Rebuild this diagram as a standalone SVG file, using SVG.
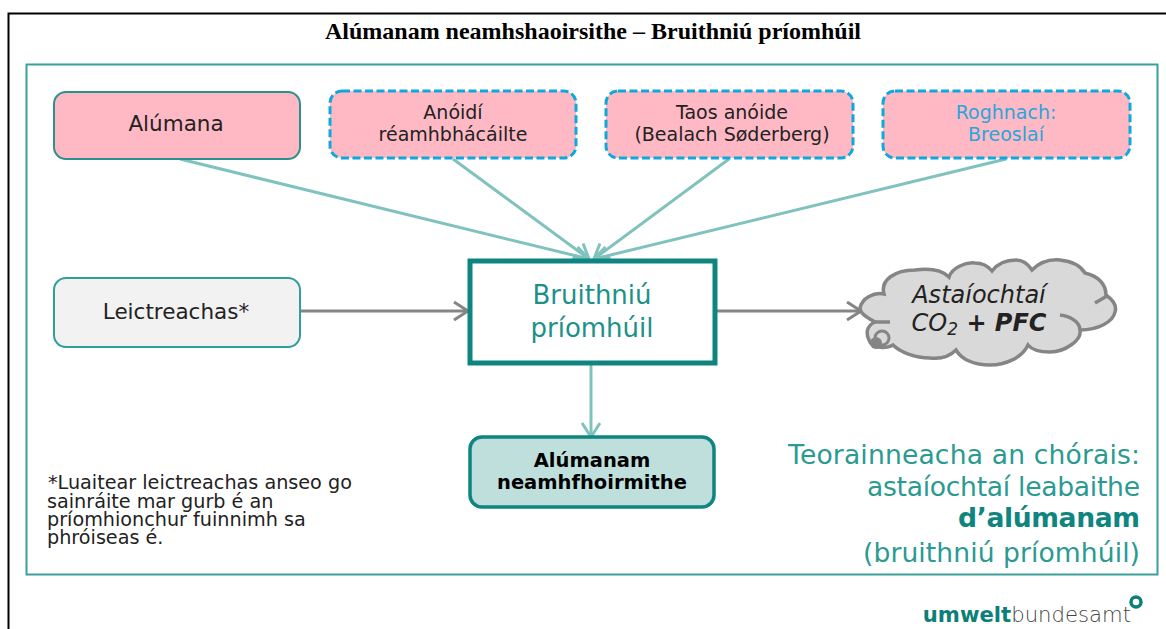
<svg xmlns="http://www.w3.org/2000/svg" width="1166" height="629" viewBox="0 0 1166 629">
<style>
text{font-family:"DejaVu Sans",Verdana,sans-serif;text-anchor:middle;fill:#222}
.solid{fill:#ffb9c5;stroke:#2f8f8c;stroke-width:2}
.dash{fill:#ffb9c5;stroke:#0fa8dc;stroke-width:3;stroke-dasharray:8 3.5}
.n{font-size:19px}
.m{font-size:21.5px}
.teal{fill:#1d9189;font-size:26px}
.tl{stroke:#7fc2be;stroke-width:3;fill:none}
.gl{stroke:#858585;stroke-width:3;fill:none}
.r{text-anchor:end;fill:#2a9a92;font-size:26.6px}
.note{text-anchor:start;font-size:19.2px}
.cl{fill:none;stroke:#858585;stroke-width:3.5}
.c{font-size:24px;font-style:italic}
.b{font-size:19.5px;font-weight:bold;fill:#000}
</style>
<defs>
<marker id="at" markerUnits="userSpaceOnUse" markerWidth="24" markerHeight="24" refX="19" refY="10" orient="auto"><path d="M5 1L19 10L5 19" fill="none" stroke="#7fc2be" stroke-width="3"/></marker>
<marker id="ag" markerUnits="userSpaceOnUse" markerWidth="24" markerHeight="24" refX="19" refY="10" orient="auto"><path d="M5 1L19 10L5 19" fill="none" stroke="#858585" stroke-width="3"/></marker>
</defs>
<rect width="1166" height="629" fill="#fff"/>
<path d="M8.5 629V13.5H1166" fill="none" stroke="#000" stroke-width="2"/>
<text x="593" y="39" style="font-family:'Liberation Serif',serif;font-weight:bold;font-size:24px;fill:#000">Alúmanam neamhshaoirsithe – Bruithniú príomhúil</text>
<rect x="26.5" y="64.5" width="1131" height="510" fill="none" stroke="#3b9f9a" stroke-width="2"/>
<g id="connectors">
<path class="tl" marker-end="url(#at)" d="M180 159L589 259"/>
<path class="tl" marker-end="url(#at)" d="M453 159L589 259"/>
<path class="tl" marker-end="url(#at)" d="M729 159L594 259"/>
<path class="tl" marker-end="url(#at)" d="M1006 159L594 259"/>
<path class="gl" marker-end="url(#ag)" d="M301 311H468"/>
<path class="gl" marker-end="url(#ag)" d="M715 311H861"/>
<path class="tl" marker-end="url(#at)" d="M591 364V437"/>
</g>
<g id="n-alumana"><rect class="solid" x="54" y="92" width="246" height="67" rx="12"/><text class="m" x="176" y="131">Alúmana</text></g>
<g id="n-anoidi"><rect class="dash" x="330" y="91" width="246" height="67" rx="12"/><text class="n" x="453" y="119">Anóidí</text><text class="n" x="453" y="141">réamhbhácáilte</text></g>
<g id="n-taos"><rect class="dash" x="606" y="91" width="247" height="67" rx="12"/><text class="n" x="732" y="119">Taos anóide</text><text class="n" x="732" y="141">(Bealach Søderberg)</text></g>
<g id="n-roghnach"><rect class="dash" x="883" y="91" width="247" height="67" rx="12"/><text class="n" x="1006" y="119" style="fill:#2aa5dc">Roghnach:</text><text class="n" x="1006" y="141" style="fill:#2aa5dc">Breoslaí</text></g>
<g id="n-leictreachas"><rect x="54" y="278" width="246" height="69" rx="12" fill="#f2f2f2" stroke="#2f9f9a" stroke-width="2"/><text class="m" x="176" y="319">Leictreachas*</text></g>
<g id="n-bruithniu"><rect x="470" y="261" width="245" height="102" fill="#fff" stroke="#0e8580" stroke-width="5"/><text class="teal" x="592" y="304">Bruithniú</text><text class="teal" x="592" y="337">príomhúil</text></g>
<g id="n-cloud"><path d="M860 308C862 298 874 292 884 294C880 280 895 270 915 270C930 268 942 270 949 277C952 268 965 262 975 263C982 263 988 266 992 271C998 263 1008 260 1016 260C1022 260 1028 264 1032 270C1040 262 1050 259 1060 260C1070 261 1080 265 1085 273C1098 276 1106 284 1106 295C1113 300 1117 306 1115 312C1113 322 1098 330 1080 330C1082 340 1065 352 1050 352C1040 352 1032 350 1028 345C1022 358 1005 365 990 365C975 365 962 360 956 350C948 358 938 359 930 358C915 358 900 352 893 345C888 348 872 350 869 340C866 334 866 326 875 322C868 318 860 314 860 308Z" fill="#d9d9d9" stroke="#858585" stroke-width="3.5"/><path class="cl" d="M875 322H890M1095 303L1107 296M1060 315C1070 316 1080 322 1080 330"/><circle cx="882" cy="338" r="7" fill="none" stroke="#858585" stroke-width="3"/><circle cx="876" cy="343" r="6" fill="#858585"/><text class="c" x="979" y="303">Astaíochtaí</text><text class="c" x="979" y="331">CO<tspan dy="4" font-size="17">2</tspan><tspan dy="-4" font-weight="bold"> + PFC</tspan></text></g>
<g id="n-alumanam"><rect x="470" y="437" width="244" height="70" rx="12" fill="#bfdfdc" stroke="#0e8580" stroke-width="3.5"/><text class="b" x="592" y="467">Alúmanam</text><text class="b" x="592" y="489">neamhfhoirmithe</text></g>
<g id="note"><text class="note"><tspan x="48" y="489">*Luaitear leictreachas anseo go</tspan><tspan x="47" y="508">sainráite mar gurb é an</tspan><tspan x="47" y="526">príomhionchur fuinnimh sa</tspan><tspan x="47" y="544">phróiseas é.</tspan></text></g>
<g id="boundary"><text class="r" x="1140" y="464" textLength="352">Teorainneacha an chórais:</text><text class="r" x="1140" y="496" textLength="273">astaíochtaí leabaithe</text><text class="r" x="1140" y="527" font-weight="bold" style="fill:#0e8580" textLength="182">d’alúmanam</text><text class="r" x="1140" y="562" textLength="277">(bruithniú príomhúil)</text></g>
<g id="logo"><text x="1131" y="622" style="text-anchor:end;font-size:21.2px;fill:#444;font-weight:200"><tspan font-weight="bold" style="fill:#0e7f78">umwelt</tspan>bundesamt</text><circle cx="1136" cy="602" r="5" fill="none" stroke="#0e7f78" stroke-width="3.5"/></g>
</svg>
